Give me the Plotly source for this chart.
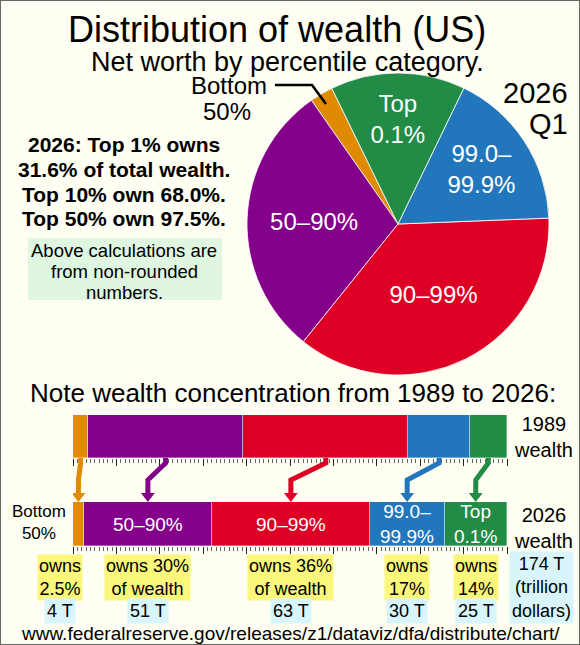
import numpy as np
import plotly.graph_objects as go

W, H = 580, 645
FONT = "Liberation Sans"
BG = "#FEFEF2"

groups = ["Bottom 50%", "50–90%", "90–99%", "99.0–99.9%", "Top 0.1%"]
colors = ["#E08A00", "#85008A", "#DE0024", "#2277BC", "#228B45"]
share_1989 = [3.5, 35.7, 38.1, 14.1, 8.6]
share_2026 = [2.5, 29.5, 36.4, 17.2, 14.4]
trillions_2026 = [4, 51, 63, 30, 25]
total_2026 = 174
slice_text = ["", "50–90%", "90–99%", "99.0–<br>99.9%", "Top<br>0.1%"]
owns_text = ["owns<br>2.5%", "owns 30%<br>of wealth", "owns 36%<br>of wealth",
             "owns<br>17%", "owns<br>14%"]
headline = ["2026: Top 1% owns", "31.6% of total wealth.",
            "Top 10% own 68.0%.", "Top 50% own 97.5%."]
caveat = ["Above calculations are", "from non-rounded", "numbers."]


def px(x):
    return x / W


def py(y):
    return 1 - y / H


def note(text, x, y, size, **kw):
    d = dict(text=text, x=px(x), y=py(y), xref="paper", yref="paper",
             xanchor="center", yanchor="middle", showarrow=False,
             font=dict(family=FONT, size=size, color="black"))
    d.update(kw)
    return d


def mids(shares):
    edges = np.concatenate([[0], np.cumsum(shares)])
    return (edges[:-1] + edges[1:]) / 2


fig = go.Figure()

# pie, 2026 Q1
fig.add_trace(go.Pie(
    labels=groups, values=share_2026, text=slice_text,
    textinfo="text", sort=False, direction="counterclockwise", rotation=-35,
    marker=dict(colors=colors, line=dict(color="white", width=0.8)),
    textfont=dict(family=FONT, size=24, color="white"),
    insidetextorientation="horizontal", textposition="inside",
    domain=dict(x=[px(247), px(549)], y=[py(375), py(73)]),
    showlegend=False, hoverinfo="label+percent",
))

# stacked bars, 1989 and 2026
for i, g in enumerate(groups):
    fig.add_trace(go.Bar(
        x=[share_1989[i]], y=["1989"], orientation="h", name=g,
        marker=dict(color=colors[i], line=dict(color="rgba(255,255,255,0.6)", width=0.6)),
        xaxis="x", yaxis="y", showlegend=False,
    ))
    fig.add_trace(go.Bar(
        x=[share_2026[i]], y=["2026"], orientation="h", name=g,
        marker=dict(color=colors[i], line=dict(color="rgba(255,255,255,0.6)", width=0.6)),
        xaxis="x2", yaxis="y2", showlegend=False,
    ))

# arrows from the 1989 segment to the 2026 segment
m89, m26 = mids(share_1989), mids(share_2026)
for i, g in enumerate(groups):
    fig.add_trace(go.Scatter(
        x=[m89[i], m89[i], m26[i], m26[i]], y=[458, 463, 480, 493],
        mode="lines", line=dict(color=colors[i], width=5),
        xaxis="x3", yaxis="y3", showlegend=False, hoverinfo="skip",
    ))
    fig.add_trace(go.Scatter(
        x=[m26[i]], y=[496], mode="markers",
        marker=dict(symbol="triangle-down", size=12, color=colors[i]),
        xaxis="x3", yaxis="y3", showlegend=False, hoverinfo="skip",
    ))

bar_dom = [px(73), px(507)]
ruler = dict(
    domain=bar_dom, range=[0, 100], ticks="outside", ticklen=7, tickwidth=1.2,
    tickcolor="#222", dtick=10, tick0=0, showticklabels=False,
    showgrid=False, zeroline=False, fixedrange=True,
    minor=dict(dtick=1, ticklen=4, ticks="outside", tickcolor="#666", showgrid=False),
)

annotations = [
    note("Distribution of wealth (US)", 277, 29, 36),
    note("Net worth by percentile category.", 287, 62, 27),
    note("Bottom", 229, 85, 24),
    note("50%", 227, 111, 24),
    note("2026", 570, 93, 29, xanchor="right"),
    note("Q1", 570, 124, 29, xanchor="right"),
    note("Note wealth concentration from 1989 to 2026:", 293, 393, 26),
    note("1989<br>wealth", 543, 437, 20),
    note("2026<br>wealth", 543, 528, 20),
    note("Bottom<br>50%", 39, 522, 17),
    note(f"{total_2026} T<br>(trillion<br>dollars)", 541, 587, 18,
         bgcolor="#D7F5FB", borderpad=2),
    note("www.federalreserve.gov/releases/z1/dataviz/dfa/distribute/chart/",
         290, 633, 19),
]
for k, line in enumerate(headline):
    annotations.append(note(f"<b>{line}</b>", 124, 145 + 24.5 * k, 21))
for k, line in enumerate(caveat):
    annotations.append(note(line, 124, 250 + 21 * k, 18.5))

for i in range(len(groups)):
    shift = -18 if i == 0 else 0
    if slice_text[i]:
        annotations.append(dict(
            text=slice_text[i], x=m26[i], y=0, xref="x2", yref="y2", showarrow=False,
            xanchor="center", yanchor="middle",
            font=dict(family=FONT, size=19, color="white"),
        ))
    annotations.append(dict(
        text=owns_text[i], x=m26[i], y=py(577), xref="x2", yref="paper",
        xanchor="center", yanchor="middle",
        xshift=shift, showarrow=False, bgcolor="#FBF67C", borderpad=1,
        font=dict(family=FONT, size=18, color="black"),
    ))
    annotations.append(dict(
        text=f"{trillions_2026[i]} T", x=m26[i], y=py(611), xref="x2", yref="paper",
        xanchor="center", yanchor="middle",
        xshift=shift, showarrow=False, bgcolor="#D7F5FB", borderpad=2,
        font=dict(family=FONT, size=18, color="black"),
    ))

shapes = [
    # note box behind the caveat text
    dict(type="rect", xref="paper", yref="paper", layer="below",
         x0=px(28), x1=px(222), y0=py(300), y1=py(238),
         fillcolor="#DFF6E1", line=dict(width=0)),
    # leader line for the thin bottom-50% slice
    dict(type="path", xref="paper", yref="paper",
         path=f"M {px(275)} {py(85)} L {px(312)} {py(85)} L {px(326)} {py(104)}",
         line=dict(color="black", width=2.5)),
    dict(type="rect", xref="paper", yref="paper", x0=0, y0=0, x1=1, y1=1,
         line=dict(color="#666", width=2)),
]

fig.update_layout(
    width=W, height=H, margin=dict(l=0, r=0, t=0, b=0),
    paper_bgcolor=BG, plot_bgcolor="rgba(0,0,0,0)",
    font=dict(family=FONT, color="black"),
    barmode="stack", bargap=0,
    xaxis=dict(ruler, anchor="y"),
    yaxis=dict(domain=[py(458), py(415)], range=[-0.5, 0.5], visible=False, fixedrange=True),
    xaxis2=dict(ruler, anchor="y2"),
    yaxis2=dict(domain=[py(546), py(502)], range=[-0.5, 0.5], visible=False, fixedrange=True),
    xaxis3=dict(domain=bar_dom, range=[0, 100], visible=False, anchor="y3", fixedrange=True),
    yaxis3=dict(domain=[0, 1], range=[H, 0], visible=False, anchor="x3", fixedrange=True),
    annotations=annotations, shapes=shapes,
)

fig.write_html("out.html", config={"displayModeBar": False},
               post_script="document.body.style.margin='0px';")
